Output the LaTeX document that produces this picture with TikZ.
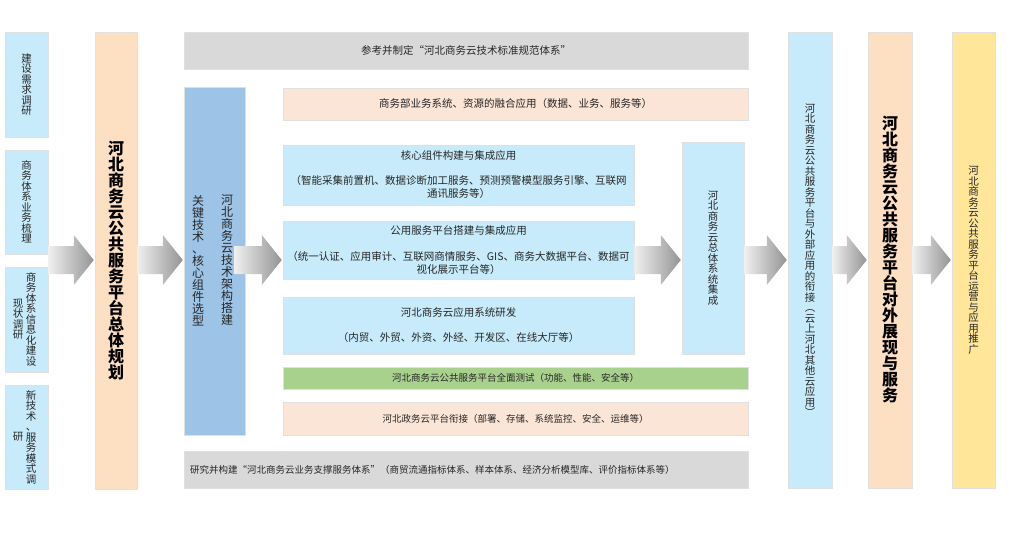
\documentclass[tikz,border=0pt]{standalone}
\usepackage{fontspec}
\setmainfont{Noto Sans CJK SC}
\usetikzlibrary{calc}
\definecolor{cyanbox}{HTML}{C7EBFA}
\definecolor{peachbig}{HTML}{FDDFC2}
\definecolor{peachlt}{HTML}{FBE5D6}
\definecolor{graybox}{HTML}{D9D9D9}
\definecolor{bluebox}{HTML}{9DC3E6}
\definecolor{greenbox}{HTML}{A9D18E}
\definecolor{yellowbox}{HTML}{FFE699}
\definecolor{txt}{HTML}{262626}
\ExplSyntaxOn
\NewDocumentCommand\vcol{m}{\vbox{\baselineskip=1em\lineskip=0pt\lineskiplimit=-100pt\tl_map_inline:nn{#1}{\hbox~to~1em{\hss##1\hss}}}}
\ExplSyntaxOff
\newcommand\flowarrow[3]{%
  \shade[left color=black!6, right color=black!42] let \p1=(#2.east), \p2=(#3.west) in
   (\x1-#1pt,-246pt) -- (\x2-21pt,-246pt) -- (\x2-21pt,-235pt) -- (\x2-1pt,-260pt)
   -- (\x2-21pt,-285pt) -- (\x2-21pt,-274pt) -- (\x1-#1pt,-274pt) -- cycle;}
\tikzset{
  box/.style={draw=black!12, line width=0.5pt, inner sep=0pt, text=txt,
    font=\fontsize{10.5}{13}\selectfont, align=center},
  vtxt/.style={inner sep=0pt, text=txt, font=\fontsize{10.5}{10.5}\selectfont},
  bigv/.style={font=\fontsize{16}{16}\selectfont\bfseries, text=black},
  smallh/.style={font=\fontsize{9.5}{12}\selectfont}
}
\begin{document}
\begin{tikzpicture}[x=1pt,y=-1pt]
\useasboundingbox (0,0) rectangle (1015,535);
% left column
\node[box, fill=cyanbox, minimum width=43, minimum height=105] (L1) at (26.5,84.5) {\vcol{建设需求调研}};
\node[box, fill=cyanbox, minimum width=43, minimum height=104] (L2) at (26.5,202) {\vcol{商务体系业务梳理}};
\node[box, fill=cyanbox, minimum width=43, minimum height=105] (L3) at (26.5,319.5) {};
\node[vtxt] (L3a) at (31,319.5) {\vcol{商务体系信息化建设}};
\node[vtxt] (L3b) at (18,319.5) {\vcol{现状调研}};
\node[box, fill=cyanbox, minimum width=43, minimum height=104] (L4) at (26.5,437) {};
\node[vtxt] (L4a) at (31,437) {\vcol{新技术、服务模式调}};
\node[vtxt] (L4b) at (18,437) {\vcol{研}};
% big orange
\node[box, fill=peachbig, minimum width=42, minimum height=457, bigv] (O1) at (116,260.5) {\vcol{河北商务云公共服务平台总体规划}};
% top gray
\node[box, fill=graybox, minimum width=564, minimum height=37] (G1) at (466,50.5) {参考并制定“河北商务云技术标准规范体系”};
% blue
\node[box, fill=bluebox, minimum width=61, minimum height=348] (B) at (214.5,261) {};
\node[vtxt, font=\fontsize{12}{12}\selectfont] (Ba) at (227,260.5) {\vcol{河北商务云技术架构搭建}};
\node[vtxt, font=\fontsize{12}{12}\selectfont] (Bb) at (198,260.5) {\vcol{关键技术、核心组件选型}};
% middle boxes
\node[box, fill=peachlt, minimum width=465, minimum height=32] (P1) at (515.5,104) {商务部业务系统、资源的融合应用（数据、业务、服务等）};
\node[box, fill=cyanbox, minimum width=351, minimum height=60] (C1) at (458.5,175) {核心组件构建与集成应用\\[12pt]（智能采集前置机、数据诊断加工服务、预测预警模型服务引擎、互联网\\通讯服务等）};
\node[box, fill=cyanbox, minimum width=351, minimum height=58] (C2) at (458.5,250) {公用服务平台搭建与集成应用\\[13pt]（统一认证、应用审计、互联网商情服务、GIS、商务大数据平台、数据可\\视化展示平台等）};
\node[box, fill=cyanbox, minimum width=351, minimum height=57] (C3) at (458.5,325.5) {河北商务云应用系统研发\\[12pt]（内贸、外贸、外资、外经、开发区、在线大厅等）};
\node[box, fill=cyanbox, minimum width=62, minimum height=212] (CV) at (713,248) {\vcol{河北商务云总体系统集成}};
\node[box, fill=greenbox, minimum width=465, minimum height=22, smallh] (T) at (515.5,378) {河北商务云公共服务平台全面测试（功能、性能、安全等）};
\node[box, fill=peachlt, minimum width=465, minimum height=33, smallh] (P2) at (515.5,418.5) {河北政务云平台衔接（部署、存储、系统监控、安全、运维等）};
\node[box, fill=graybox, minimum width=564, minimum height=37] (G2) at (466,469.5) {};
\node[vtxt, smallh, anchor=west] (G2t) at (190,469.5) {研究并构建“河北商务云业务支撑服务体系”（商贸流通指标体系、样本体系、经济分析模型库、评价指标体系等）};
% right columns
\node[box, fill=cyanbox, minimum width=44, minimum height=456] (R1) at (810,260) {\vcol{河北商务云公共服务平台与外部应用的衔接︵云上河北其他云应用︶}};
\node[box, fill=peachbig, minimum width=44, minimum height=456, bigv] (R2) at (890,260) {\vcol{河北商务云公共服务平台对外展现与服务}};
\node[box, fill=yellowbox, minimum width=43, minimum height=456] (R3) at (973.5,260) {\vcol{河北商务云公共服务平台运营与应用推广}};
% arrows
\flowarrow{0}{L2}{O1}
\flowarrow{0}{O1}{B}
\flowarrow{11}{B}{C2}
\flowarrow{0}{C2}{CV}
\flowarrow{0}{CV}{R1}
\flowarrow{0}{R1}{R2}
\flowarrow{0}{R2}{R3}
\end{tikzpicture}
\end{document}
